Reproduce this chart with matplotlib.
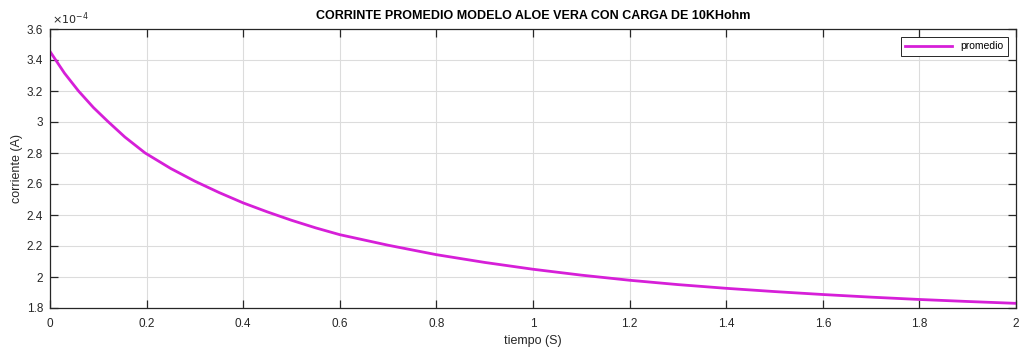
import numpy as np
import matplotlib
matplotlib.use("Agg")
import matplotlib.pyplot as plt

# ---------- data (corriente in units of 1e-4 A) ----------
tiempo = [0.0, 0.03, 0.059, 0.09, 0.12, 0.155, 0.197, 0.25, 0.3, 0.35, 0.4,
          0.45, 0.5, 0.55, 0.6, 0.7, 0.8, 0.9, 1.0, 1.1, 1.2, 1.3, 1.4, 1.5,
          1.6, 1.7, 1.8, 1.9, 2.0]
corriente_e4 = [3.455, 3.315, 3.20, 3.093, 3.003, 2.903, 2.80, 2.70, 2.618, 2.545, 2.478,
                2.42, 2.366, 2.317, 2.273, 2.205, 2.144, 2.094, 2.05, 2.012, 1.979,
                1.951, 1.927, 1.906, 1.887, 1.870, 1.855, 1.842, 1.830]

x_ticks = [0, 0.2, 0.4, 0.6, 0.8, 1, 1.2, 1.4, 1.6, 1.8, 2]
y_ticks = [1.8, 2, 2.2, 2.4, 2.6, 2.8, 3, 3.2, 3.4, 3.6]

plt.rcParams['font.family'] = ['Liberation Sans', 'DejaVu Sans']
axis_col = '#262626'

fig = plt.figure(figsize=(10.23, 3.48), dpi=100)
ax = fig.add_axes([50/1023, 40/348, 966/1023, 279/348])

ax.plot(tiempo, corriente_e4, color='#d61fd8', linewidth=2.0, label='promedio')

ax.set_xlim(0, 2)
ax.set_ylim(1.8, 3.6)
ax.set_xticks(x_ticks)
ax.set_xticklabels([f'{v:g}' for v in x_ticks])
ax.set_yticks(y_ticks)
ax.set_yticklabels([f'{v:g}' for v in y_ticks])

# MATLAB-style exponent label above the y axis
ax.text(0.002, 1.006, r'$\times10^{-4}$', transform=ax.transAxes,
        fontsize=8, color=axis_col, ha='left', va='bottom')

ax.grid(True, color='#dcdcdc', linewidth=0.8)
ax.set_axisbelow(True)
for s in ax.spines.values():
    s.set_color(axis_col)
    s.set_linewidth(0.9)
ax.tick_params(direction='in', length=6, width=0.9, colors=axis_col,
               labelsize=8.5, top=True, right=True)
ax.tick_params(axis='x', pad=7)
ax.tick_params(axis='y', pad=5)

ax.set_title('CORRINTE PROMEDIO MODELO ALOE VERA CON CARGA DE 10KHohm',
             fontsize=9, fontweight='bold', color='black', pad=7)
ax.set_xlabel('tiempo (S)', fontsize=9, color=axis_col, labelpad=4)
ax.set_ylabel('corriente (A)', fontsize=9, color=axis_col, labelpad=3)

leg = ax.legend(loc='upper right', fontsize=7.5, handlelength=4.5,
                fancybox=False, framealpha=1, edgecolor=axis_col,
                borderaxespad=0.8, borderpad=0.4)
leg.get_frame().set_linewidth(0.7)

fig.savefig('out.png', dpi=100, facecolor='white')
